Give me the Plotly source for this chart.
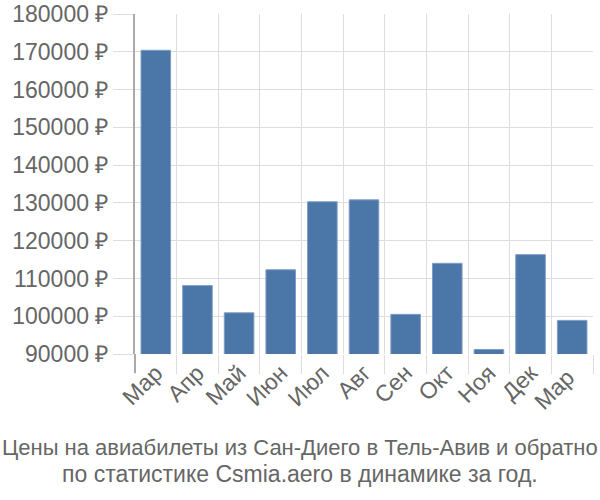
import plotly.graph_objects as go

months = ["Мар", "Апр", "Май", "Июн", "Июл", "Авг", "Сен", "Окт", "Ноя", "Дек", "Мар "]
prices = [170400, 108100, 100900, 112300, 130300, 130800, 100500, 114000, 91200, 116300, 98900]
y_ticks = [90000, 100000, 110000, 120000, 130000, 140000, 150000, 160000, 170000, 180000]
y_labels = [f"{v} ₽" for v in y_ticks]
title_lines = ["Цены на авиабилеты из Сан-Диего в Тель-Авив и обратно",
               "по статистике Csmia.aero в динамике за год."]

font_family = "Liberation Sans, Arial, sans-serif"
W, H = 600, 500
ML, MR = 135, 7
PLOT_TOP, PLOT_BOTTOM = 14, 354

fig = go.Figure(go.Bar(
    x=months, y=prices,
    marker=dict(color="#4a76a8", line=dict(color="#7f9cc4", width=1)),
))
fig.update_layout(
    width=W, height=H,
    margin=dict(l=ML, r=MR, t=PLOT_TOP, b=H - PLOT_BOTTOM),
    plot_bgcolor="white", paper_bgcolor="white",
    bargap=0.29,
    showlegend=False,
    font=dict(family=font_family, color="#666666"),
)
fig.update_yaxes(
    range=[90000, 180000],
    tickvals=y_ticks, ticktext=y_labels,
    tickfont=dict(size=23, color="#666666"),
    showgrid=True, gridcolor="#dddddd", gridwidth=1,
    ticks="outside", ticklen=20, tickcolor="#dddddd",
    showline=True, linecolor="#aaaaaa", linewidth=2,
    zeroline=False, automargin=False,
)
fig.update_xaxes(
    type="category",
    tickangle=-45,
    tickfont=dict(size=23, color="#666666"),
    showgrid=True, gridcolor="#dddddd", gridwidth=1,
    tickson="boundaries",
    ticks="outside", ticklen=19, tickcolor="#dddddd",
    showline=False, automargin=False,
)
plot_h = PLOT_BOTTOM - PLOT_TOP
plot_w = W - ML - MR
# extend the y-axis line below the plot like the reference
fig.add_shape(type="line", xref="paper", yref="paper", x0=0, x1=0,
              y0=0, y1=-19 / plot_h,
              line=dict(color="#aaaaaa", width=2))
center_x = (W / 2 - ML) / plot_w
for line, py, fs in zip(title_lines, [447, 474], [22, 23]):
    fig.add_annotation(
        text=line, x=center_x, xref="paper", xanchor="center",
        y=(PLOT_BOTTOM - py) / plot_h, yref="paper", yanchor="middle",
        showarrow=False, font=dict(size=fs, color="#666666", family=font_family),
    )
fig.write_html("out.html")
